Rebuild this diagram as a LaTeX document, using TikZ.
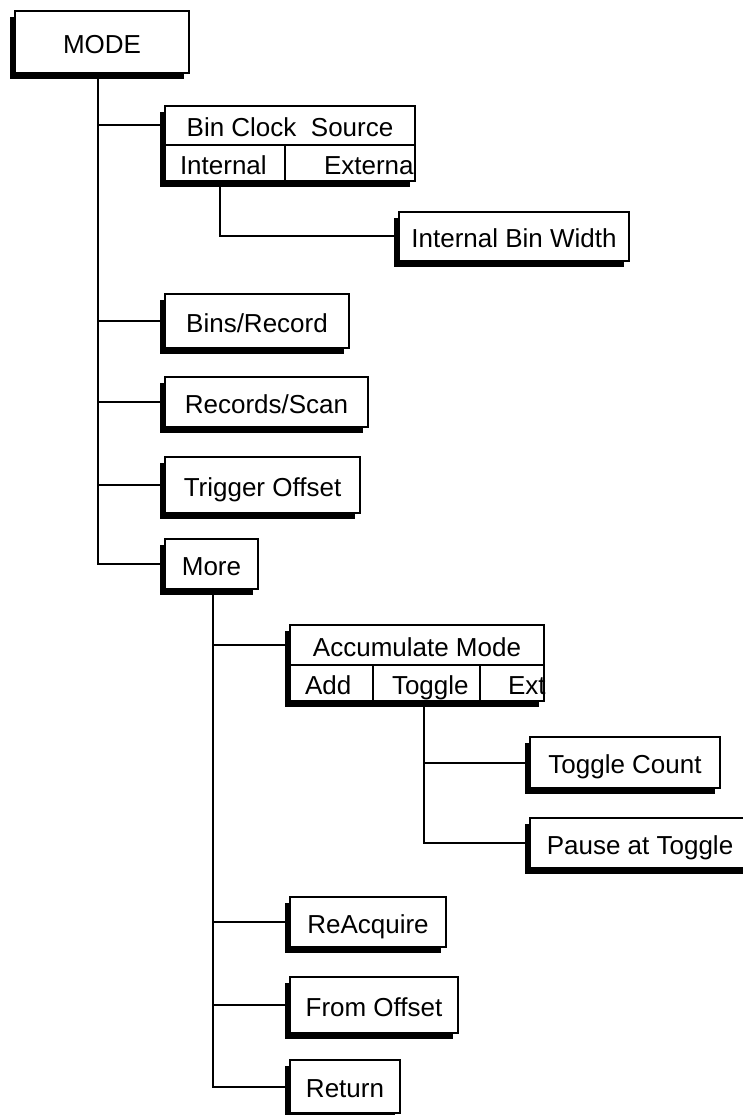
\documentclass[tikz,border=0pt]{standalone}
\usepackage{fontspec}
\setmainfont{Liberation Sans}
\usetikzlibrary{shadows}
\tikzset{
  boxbase/.style={draw=black, line width=2.5pt, fill=white, inner sep=0pt,
    font=\fontsize{26}{30}\selectfont, text height=22.6pt, text depth=0pt,
    drop shadow={shadow xshift=-5pt, shadow yshift=-6pt, fill=black, opacity=1}},
  cellbox/.style={boxbase, text width=#1, align=left},
  conn/.style={line width=2pt}
}
\begin{document}
\begin{tikzpicture}[x=1pt, y=-1pt]
\useasboundingbox (0,0) rectangle (742,1115);

% top level
\node[boxbase, minimum width=174pt, minimum height=62pt] (mode) at (102,42) {MODE};

% Bin Clock Source split box
\node[boxbase, minimum width=250pt, minimum height=39pt] (bcs) at (290,125.5) {Bin Clock\ \ Source};
\node[cellbox=130pt, minimum height=36pt] (bcsext) at (350,163) {\hspace*{39pt}Externa};
\node[cellbox=120pt, minimum height=36pt] (bcsint) at (225,163) {\hspace*{15pt}Internal};

\node[boxbase, minimum width=230pt, minimum height=49pt] (ibw) at (514,236.5) {Internal Bin Width};

\node[boxbase, minimum width=184pt, minimum height=54pt] (bins) at (257,321) {Bins/Record};
\node[boxbase, minimum width=203pt, minimum height=50pt] (recs) at (266.5,402) {Records/Scan};
\node[boxbase, minimum width=195pt, minimum height=56pt] (trig) at (262.5,485) {Trigger Offset};
\node[boxbase, minimum width=93pt, minimum height=50pt] (more) at (211.5,564) {More};

% Accumulate Mode split box
\node[boxbase, minimum width=254pt, minimum height=40pt] (acc) at (417,645) {Accumulate Mode};
\node[cellbox=64pt, minimum height=36pt] (accext) at (512,683) {\hspace*{28pt}Ext};
\node[cellbox=107pt, minimum height=36pt] (acctog) at (426.5,683) {\hspace*{19pt}Toggle};
\node[cellbox=83pt, minimum height=36pt] (accadd) at (331.5,683) {\hspace*{15pt}Add};

\node[boxbase, minimum width=190pt, minimum height=51pt] (tcount) at (625,762.5) {Toggle Count};
\node[boxbase, minimum width=220pt, minimum height=50pt] (pause) at (640,843) {Pause at Toggle};

\node[boxbase, minimum width=156pt, minimum height=50pt] (reacq) at (368,922) {ReAcquire};
\node[boxbase, minimum width=168pt, minimum height=56pt] (fromoff) at (374,1005) {From Offset};
\node[boxbase, minimum width=110pt, minimum height=53pt] (ret) at (345,1086.5) {Return};

% connectors
\draw[conn] ([xshift=-4pt]mode.south) |- (more.west);
\foreach \n in {bcs,bins,recs,trig}
  \draw[conn] ([xshift=-4pt]mode.south |- \n.west) -- (\n.west);
\draw[conn] ([xshift=-5pt]bcsint.south) |- (ibw.west);
\draw[conn] ([xshift=1.5pt]more.south) |- (ret.west);
\foreach \n in {acc,reacq,fromoff}
  \draw[conn] ([xshift=1.5pt]more.south |- \n.west) -- (\n.west);
\draw[conn] ([xshift=-2.5pt]acctog.south) |- (pause.west);
\draw[conn] ([xshift=-2.5pt]acctog.south |- tcount.west) -- (tcount.west);
\end{tikzpicture}
\end{document}
